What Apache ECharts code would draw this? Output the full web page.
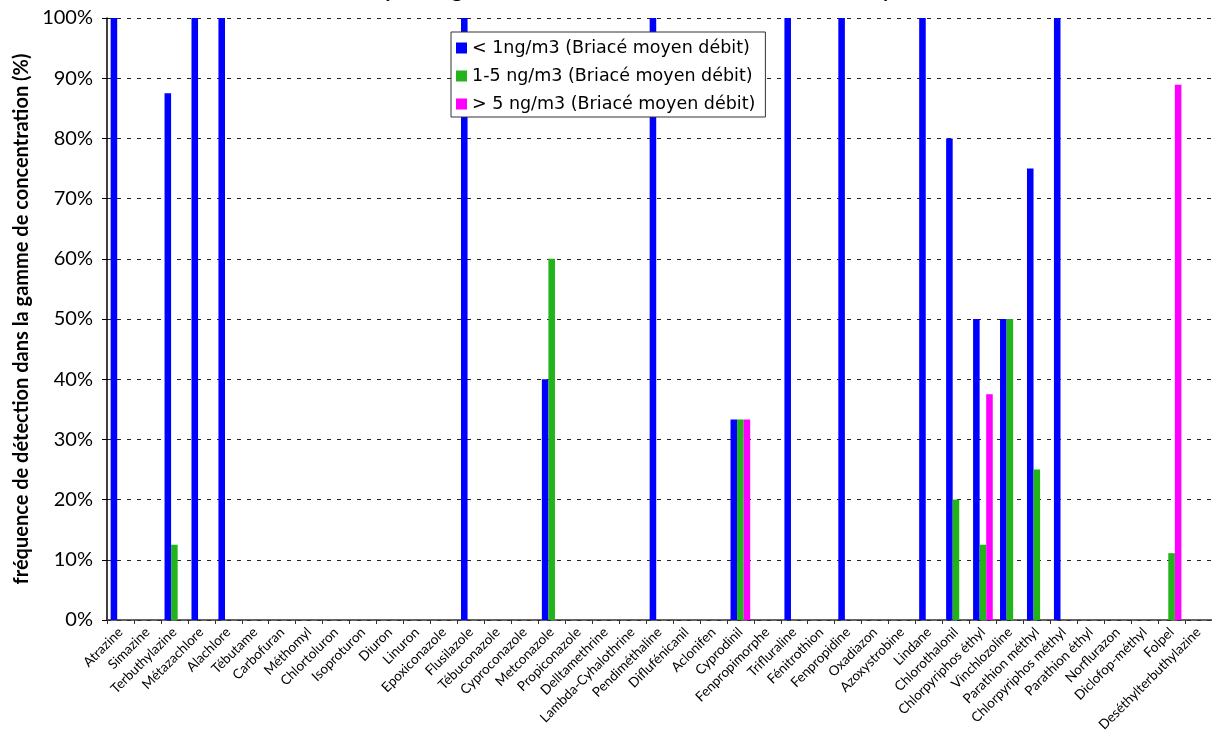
<!DOCTYPE html>
<html>
<head>
<meta charset="utf-8">
<script src="https://cdn.jsdelivr.net/npm/echarts@6/dist/echarts.min.js"></script>
<style>
  html, body { margin: 0; padding: 0; background: #fff; }
  #chart { width: 1212px; height: 740px; }
</style>
</head>
<body>
<div id="chart"></div>
<script>
// Molecules analysed (x-axis categories)
const categories = [
  'Atrazine', 'Simazine', 'Terbuthylazine', 'Métazachlore', 'Alachlore', 'Tébutame',
  'Carbofuran', 'Méthomyl', 'Chlortoluron', 'Isoproturon', 'Diuron', 'Linuron',
  'Epoxiconazole', 'Flusilazole', 'Tébuconazole', 'Cyproconazole', 'Metconazole',
  'Propiconazole', 'Delltamethrine', 'Lambda-Cyhalothrine', 'Pendiméthaline',
  'Diflufénicanil', 'Aclonifen', 'Cyprodinil', 'Fenpropimorphe', 'Trifluraline',
  'Fénitrothion', 'Fenpropidine', 'Oxadiazon', 'Azoxystrobine', 'Lindane',
  'Chlorothalonil', 'Chlorpyriphos éthyl', 'Vinchlozoline', 'Parathion méthyl',
  'Chlorpyriphos méthyl', 'Parathion éthyl', 'Norflurazon', 'Diclofop-méthyl',
  'Folpel', 'Deséthylterbuthylazine'
];

// Detection frequency (%) per concentration range
const lowRange = [
  100, null, 87.5, 100, 100, null,
  null, null, null, null, null, null,
  null, 100, null, null, 40,
  null, null, null, 100,
  null, null, 33.3, null, 100,
  null, 100, null, null, 100,
  80, 50, 50, 75,
  100, null, null, null,
  null, null
];
const midRange = [
  null, null, 12.5, null, null, null,
  null, null, null, null, null, null,
  null, null, null, null, 60,
  null, null, null, null,
  null, null, 33.3, null, null,
  null, null, null, null, null,
  20, 12.5, 50, 25,
  null, null, null, null,
  11.1, null
];
const highRange = [
  null, null, null, null, null, null,
  null, null, null, null, null, null,
  null, null, null, null, null,
  null, null, null, null,
  null, null, 33.3, null, null,
  null, null, null, null, null,
  null, 37.5, null, null,
  null, null, null, null,
  88.9, null
];

const seriesNames = [
  '< 1ng/m3 (Briacé moyen débit)',
  '1-5 ng/m3 (Briacé moyen débit)',
  '> 5 ng/m3 (Briacé moyen débit)'
];
const yTicks = [0, 10, 20, 30, 40, 50, 60, 70, 80, 90, 100];

const FONT = 'Lato, "DejaVu Sans", sans-serif';
const WIDE_FONT = '"DejaVu Sans", Lato, sans-serif';
const colors = ['#0000ff', '#22b41a', '#ff00ff'];

const chart = echarts.init(document.getElementById('chart'), null, { renderer: 'canvas' });

const makeSeries = (name, data, color) => ({
  name: name,
  type: 'bar',
  data: data,
  barGap: '0%',
  barCategoryGap: '27%',
  itemStyle: { color: color },
  emphasis: { disabled: true },
  animation: false
});

chart.setOption({
  backgroundColor: '#ffffff',
  animation: false,
  title: {
    text: 'Molécules analysées : gamme de concentration mesurée à Briacé moyen débit',
    left: 240,
    top: -25,
    textStyle: { fontFamily: FONT, fontSize: 21, fontWeight: 'bold', color: '#000' }
  },
  legend: {
    orient: 'vertical',
    left: 451,
    top: 32,
    itemWidth: 11,
    itemHeight: 11,
    itemGap: 10,
    icon: 'rect',
    padding: [7, 10, 4, 5],
    backgroundColor: '#fff',
    borderColor: '#333',
    borderWidth: 1,
    textStyle: { fontFamily: WIDE_FONT, fontSize: 17.5, lineHeight: 18, color: '#000' },
    data: seriesNames
  },
  grid: { left: 107, right: 0, top: 18, bottom: 120, containLabel: false },
  xAxis: {
    type: 'category',
    data: categories,
    boundaryGap: true,
    axisLine: { lineStyle: { color: '#333', width: 1.5 } },
    axisTick: { show: true, alignWithLabel: false, length: 4, lineStyle: { color: '#333' } },
    axisLabel: {
      interval: 0,
      rotate: 45,
      margin: 10,
      fontFamily: FONT,
      fontSize: 13.5,
      color: '#000'
    }
  },
  yAxis: {
    type: 'value',
    min: yTicks[0],
    max: yTicks[yTicks.length - 1],
    interval: 10,
    name: 'fréquence de détection dans la gamme de concentration (%)',
    nameLocation: 'middle',
    nameGap: 75,
    nameTextStyle: { fontFamily: FONT, fontSize: 20, fontWeight: 'bold', color: '#000' },
    axisLine: { show: true, lineStyle: { color: '#000', width: 1.5 } },
    axisTick: { show: true, length: 5, lineStyle: { color: '#000' } },
    axisLabel: {
      fontFamily: FONT,
      fontSize: 20,
      color: '#000',
      margin: 14,
      formatter: v => v + '%'
    },
    splitLine: { show: true, lineStyle: { color: '#222', width: 1, type: [4, 6] } }
  },
  series: [
    makeSeries(seriesNames[0], lowRange, colors[0]),
    makeSeries(seriesNames[1], midRange, colors[1]),
    makeSeries(seriesNames[2], highRange, colors[2])
  ]
});
</script>
</body>
</html>
